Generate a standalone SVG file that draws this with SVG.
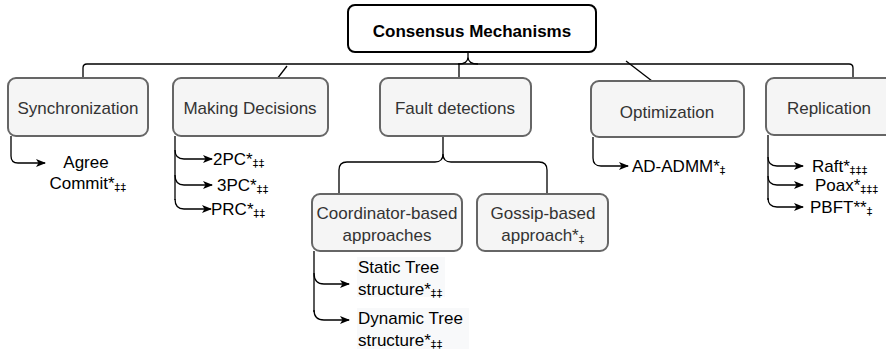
<svg xmlns="http://www.w3.org/2000/svg" width="886" height="356" viewBox="0 0 886 356">
  <defs>
    <marker id="arrow" markerWidth="10" markerHeight="8" refX="9" refY="4" orient="auto" markerUnits="userSpaceOnUse">
      <path d="M0,0 L10,4 L0,8 L2.5,4 Z" fill="#000"/>
    </marker>
    <style>
      .box { fill: #f5f5f5; stroke: #666; stroke-width: 2; }
      .root { fill: #fff; stroke: #000; stroke-width: 2; }
      .lbl { font-family: "Liberation Sans", Arial, sans-serif; font-size: 17px; fill: #333; text-anchor: middle; }
      .title { font-family: "Liberation Sans", Arial, sans-serif; font-size: 17px; font-weight: bold; fill: #000; text-anchor: middle; }
      .leaf { font-family: "Liberation Sans", Arial, sans-serif; font-size: 17px; fill: #000; }
      .sub { font-family: "DejaVu Sans", sans-serif; font-size: 11px; letter-spacing: 0.5px; }
      .edge { fill: none; stroke: #000; stroke-width: 1.3; }
      .arr { fill: none; stroke: #000; stroke-width: 1.3; marker-end: url(#arrow); }
      .hl { fill: #f8f9fa; }
    </style>
  </defs>

  <!-- connectors -->
  <g id="connectors">
    <!-- main bus under the root -->
    <path class="edge" d="M83,78 L83,68 Q83,64 87,64 L849,64 Q853,64 853,68 L853,77"/>
    <path class="edge" d="M458,64 Q468,64 468,57 L468,52 M468,57 Q468,64 478,64"/>
    <path class="edge" d="M459,64 L459,78"/>
    <path class="edge" d="M287,66 L277,79"/>
    <path class="edge" d="M626,61 L652,81"/>

    <!-- Synchronization -->
    <path class="arr" d="M11,136 L11,156 Q11,163 18,163 L45,163"/>

    <!-- Making Decisions -->
    <path class="edge" d="M175,136 L175,200"/>
    <path class="arr" d="M175,150 Q175,159 184,159 L212,159"/>
    <path class="arr" d="M175,175 Q175,185 184,185 L212,185"/>
    <path class="arr" d="M175,199 Q175,209 184,209 L211,209"/>

    <!-- Fault detections split -->
    <path class="edge" d="M443,136 L443,154 Q443,162 435,162 L347,162 Q339,162 339,170 L339,194"/>
    <path class="edge" d="M443,154 Q443,162 451,162 L539,162 Q547,162 547,170 L547,194"/>

    <!-- Coordinator-based -->
    <path class="edge" d="M314,251 L314,312"/>
    <path class="arr" d="M314,273 Q314,284 324,284 L349,284"/>
    <path class="arr" d="M314,310 Q314,320 324,320 L349,320"/>

    <!-- Optimization -->
    <path class="arr" d="M593,137 L593,158 Q593,166 601,166 L628,166"/>

    <!-- Replication -->
    <path class="edge" d="M768,135 L768,200"/>
    <path class="arr" d="M768,157 Q768,166 777,166 L803,166"/>
    <path class="arr" d="M768,176 Q768,185 777,185 L803,185"/>
    <path class="arr" d="M768,198 Q768,207 777,207 L803,207"/>
  </g>

  <!-- root -->
  <g id="root">
    <rect class="root" x="348" y="5" width="248" height="47" rx="7"/>
    <text class="title" x="472" y="37">Consensus Mechanisms</text>
  </g>

  <g id="synchronization">
    <rect class="box" x="8" y="78" width="140" height="58" rx="8"/>
    <text class="lbl" x="78" y="114">Synchronization</text>
  </g>

  <g id="making-decisions">
    <rect class="box" x="173" y="78" width="155" height="58" rx="8"/>
    <text class="lbl" x="250" y="114">Making Decisions</text>
  </g>

  <g id="fault-detections">
    <rect class="box" x="380" y="78" width="151" height="58" rx="8"/>
    <text class="lbl" x="455" y="114">Fault detections</text>
  </g>

  <g id="optimization">
    <rect class="box" x="591" y="81" width="153" height="56" rx="8"/>
    <text class="lbl" x="667" y="118">Optimization</text>
  </g>

  <g id="replication">
    <rect class="box" x="766" y="78" width="128" height="57" rx="8"/>
    <text class="lbl" x="829" y="114">Replication</text>
  </g>

  <g id="coordinator-based">
    <rect class="box" x="312" y="194" width="150" height="57" rx="8"/>
    <text class="lbl" x="387" y="219">Coordinator-based</text>
    <text class="lbl" x="387" y="241">approaches</text>
  </g>

  <g id="gossip-based">
    <rect class="box" x="477" y="194" width="131" height="57" rx="8"/>
    <text class="lbl" x="543" y="219">Gossip-based</text>
    <text class="lbl" x="543" y="241">approach*<tspan class="sub" dy="2">‡</tspan></text>
  </g>

  <!-- leaf entries -->
  <g id="agree-commit">
    <text class="leaf" x="86" y="168" text-anchor="middle">Agree</text>
    <text class="leaf" x="88" y="189" text-anchor="middle">Commit*<tspan class="sub" dy="2">‡‡</tspan></text>
  </g>
  <g id="pc2"><text class="leaf" x="213" y="165">2PC*<tspan class="sub" dy="2">‡‡</tspan></text></g>
  <g id="pc3"><text class="leaf" x="217" y="191">3PC*<tspan class="sub" dy="2">‡‡</tspan></text></g>
  <g id="prc"><text class="leaf" x="211" y="215">PRC*<tspan class="sub" dy="2">‡‡</tspan></text></g>

  <g id="static-tree">
    <rect class="hl" x="357" y="257" width="88" height="40"/>
    <text class="leaf" x="358" y="273">Static Tree</text>
    <text class="leaf" x="358" y="295">structure*<tspan class="sub" dy="2">‡‡</tspan></text>
  </g>
  <g id="dynamic-tree">
    <rect class="hl" x="357" y="308" width="112" height="41"/>
    <text class="leaf" x="358" y="324">Dynamic Tree</text>
    <text class="leaf" x="358" y="346">structure*<tspan class="sub" dy="2">‡‡</tspan></text>
  </g>

  <g id="ad-admm"><text class="leaf" x="632" y="172">AD-ADMM*<tspan class="sub" dy="2">‡</tspan></text></g>
  <g id="raft"><text class="leaf" x="812" y="172">Raft*<tspan class="sub" dy="2">‡‡‡</tspan></text></g>
  <g id="poax"><text class="leaf" x="815" y="191">Poax*<tspan class="sub" dy="2">‡‡‡</tspan></text></g>
  <g id="pbft"><text class="leaf" x="810" y="213">PBFT**<tspan class="sub" dy="2">‡</tspan></text></g>
</svg>
